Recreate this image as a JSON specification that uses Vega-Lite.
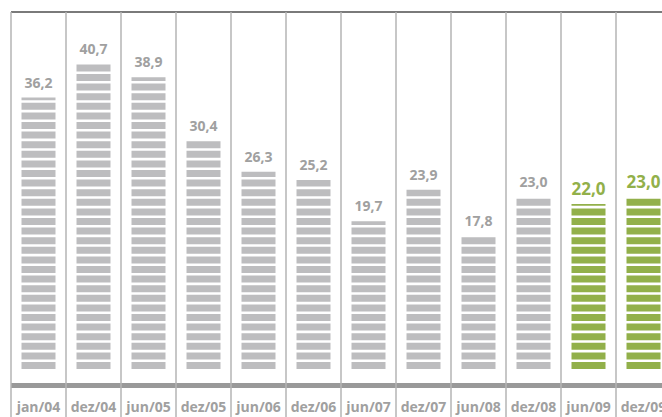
{
  "$schema": "https://vega.github.io/schema/vega-lite/v6.json",
  "width": 660,
  "height": 405,
  "autosize": "none",
  "padding": {"left": 11, "top": 12, "right": 0, "bottom": 0},
  "background": "white",
  "config": {
    "view": {"stroke": null},
    "locale": {"number": {"decimal": ",", "thousands": ".", "grouping": [3], "currency": ["R$", ""]}}
  },
  "data": {"values": [
    {"periodo": "jan/04", "valor": 36.2, "serie": "historico"},
    {"periodo": "dez/04", "valor": 40.7, "serie": "historico"},
    {"periodo": "jun/05", "valor": 38.9, "serie": "historico"},
    {"periodo": "dez/05", "valor": 30.4, "serie": "historico"},
    {"periodo": "jun/06", "valor": 26.3, "serie": "historico"},
    {"periodo": "dez/06", "valor": 25.2, "serie": "historico"},
    {"periodo": "jun/07", "valor": 19.7, "serie": "historico"},
    {"periodo": "dez/07", "valor": 23.9, "serie": "historico"},
    {"periodo": "jun/08", "valor": 17.8, "serie": "historico"},
    {"periodo": "dez/08", "valor": 23.0, "serie": "historico"},
    {"periodo": "jun/09", "valor": 22.0, "serie": "destaque"},
    {"periodo": "dez/09", "valor": 23.0, "serie": "destaque"}
  ]},
  "encoding": {
    "x": {
      "field": "periodo", "type": "nominal", "sort": null,
      "scale": {"paddingInner": 0, "paddingOuter": 0},
      "axis": {
        "title": null, "domain": false, "ticks": false, "tickSize": 0, "grid": false,
        "labelAngle": 0, "labelPadding": -6, "labelBaseline": "alphabetic",
        "labelFont": "Open Sans", "labelFontWeight": "bold", "labelFontSize": 14,
        "labelColor": "#a0a0a0"
      }
    }
  },
  "layer": [
    {
      "mark": {"type": "rule", "color": "#7a7a7a", "strokeWidth": 1},
      "encoding": {"x": null, "y": {"datum": 47.6, "type": "quantitative", "scale": {"domain": [-6.4, 47.6], "nice": false, "zero": false}, "axis": null}}
    },
    {
      "mark": {"type": "rule", "color": "#999999", "strokeWidth": 5},
      "encoding": {"x": null, "y": {"datum": -2.2, "type": "quantitative"}}
    },
    {
      "mark": {"type": "rule", "color": "#b5b5b5", "strokeWidth": 1.5},
      "encoding": {"x": {"field": "periodo", "type": "nominal", "sort": null, "bandPosition": 0}}
    },
    {
      "mark": {"type": "rule", "strokeWidth": 34, "strokeDash": [7, 2.6], "strokeCap": "butt"},
      "encoding": {
        "y": {"datum": 0, "type": "quantitative"},
        "y2": {"field": "valor", "type": "quantitative"},
        "color": {"field": "serie", "type": "nominal", "scale": {"domain": ["historico", "destaque"], "range": ["#bdbdbf", "#92b04a"]}, "legend": null}
      }
    },
    {
      "transform": [{"filter": "datum.serie == 'historico'"}],
      "mark": {"type": "text", "baseline": "alphabetic", "dy": -10, "font": "Open Sans", "fontWeight": "bold", "fontSize": 14, "color": "#a0a0a0"},
      "encoding": {
        "y": {"field": "valor", "type": "quantitative"},
        "text": {"field": "valor", "type": "quantitative", "format": ".1f"}
      }
    },
    {
      "transform": [{"filter": "datum.serie == 'destaque'"}],
      "mark": {"type": "text", "baseline": "alphabetic", "dy": -9, "font": "Open Sans", "fontWeight": "bold", "fontSize": 17, "color": "#92b04a"},
      "encoding": {
        "y": {"field": "valor", "type": "quantitative"},
        "text": {"field": "valor", "type": "quantitative", "format": ".1f"}
      }
    }
  ]
}
